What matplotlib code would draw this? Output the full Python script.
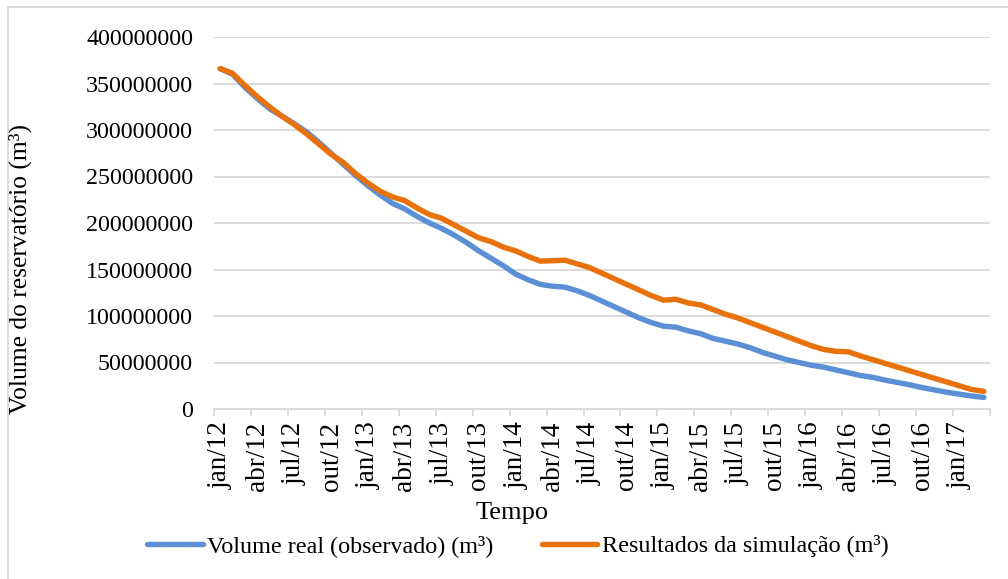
import matplotlib
matplotlib.use("Agg")
import matplotlib.pyplot as plt
from matplotlib.lines import Line2D
import numpy as np

plt.rcParams['font.family'] = ['Liberation Serif', 'DejaVu Serif']

months_pt = ["jan", "fev", "mar", "abr", "mai", "jun", "jul", "ago", "set", "out", "nov", "dez"]
categories = [f"{months_pt[m]}/{str(y)[2:]}" for y in range(2012, 2018) for m in range(12)][:63]

observed_m = [366, 360, 346, 334, 323, 315, 307, 298, 287, 275,
              263, 251, 240, 230, 221, 215, 207, 200, 194, 187,
              179, 170, 162, 154, 145, 139, 134, 132, 131, 127,
              122, 116, 110, 104, 98, 93, 89, 88, 84, 81,
              76, 73, 70, 66, 61, 57, 53, 50, 47, 45,
              42, 39, 36, 34, 31, 28.5, 26, 23, 20.5, 18,
              16, 14, 12.5]
simulated_m = [366, 361, 348, 336, 325, 315, 306, 296, 285, 274,
               265, 253, 243, 234, 228, 224, 216, 209, 205, 198,
               191, 184, 180, 174, 170, 164, 159, 159.5, 160, 156,
               152, 146, 140, 134, 128, 122, 117, 118, 114, 112,
               107, 102, 98, 93, 88, 83, 78, 73, 68, 64,
               62, 61.5, 57, 53, 49, 45, 41, 37, 33, 29,
               25, 21, 19]
observed = [v * 1e6 for v in observed_m]
simulated = [v * 1e6 for v in simulated_m]

yticks = [0, 50000000, 100000000, 150000000, 200000000, 250000000, 300000000, 350000000, 400000000]

W, H = 1008, 579
fig = plt.figure(figsize=(W / 100, H / 100), dpi=100)
ax = fig.add_axes([214 / W, 1 - 409 / H, (990 - 214) / W, (409 - 37) / H])

x = np.arange(len(categories))
blue = "#5B8FD6"
orange = "#E8710A"
l1, = ax.plot(x, observed, color=blue, lw=3.9, solid_capstyle='round', solid_joinstyle='round',
              label="Volume real (observado) (m³)")
l2, = ax.plot(x, simulated, color=orange, lw=3.9, solid_capstyle='round', solid_joinstyle='round',
              label="Resultados da simulação (m³)")

grid_c = "#D9D9D9"
ax.set_xlim(-0.5, len(categories) - 0.5)
ax.set_ylim(0, 400000000)
ax.set_yticks(yticks)
ax.set_yticklabels([str(v) for v in yticks], fontsize=17.3)
ax.tick_params(axis='y', length=0, pad=15)
ax.yaxis.grid(True, color=grid_c, lw=1.3)
ax.set_axisbelow(True)

lab_idx = list(range(0, len(categories), 3))
ax.set_xticks(lab_idx)
ax.set_xticklabels([categories[i] for i in lab_idx], rotation=90, fontsize=19.5)
ax.tick_params(axis='x', which='major', length=0, pad=9)
ax.set_xticks(np.arange(-0.5, len(categories), 3), minor=True)
ax.tick_params(axis='x', which='minor', length=5, color=grid_c, width=1.3)

for s in ['top', 'right', 'left']:
    ax.spines[s].set_visible(False)
ax.spines['bottom'].set_color(grid_c)
ax.spines['bottom'].set_linewidth(1.3)

fig.text(20 / W, 1 - 269 / H, "Volume do reservatório (m³)", rotation=90, fontsize=18.4,
         ha='center', va='center')
fig.text(512 / W, 1 - 513 / H, "Tempo", fontsize=19, ha='center', va='center')

fig.legend(handles=[l1, l2], loc='center', bbox_to_anchor=(518 / W, 1 - 546 / H), ncol=2,
           frameon=False, fontsize=17.4, handlelength=2.28, handletextpad=0.2, columnspacing=2.0)

fig.add_artist(Line2D([8 / W, 8 / W], [0, 1 - 7 / H], color=grid_c, lw=1.3, transform=fig.transFigure))
fig.add_artist(Line2D([8 / W, 1], [1 - 7 / H, 1 - 7 / H], color=grid_c, lw=1.3, transform=fig.transFigure))

fig.savefig("out.png", dpi=100)
